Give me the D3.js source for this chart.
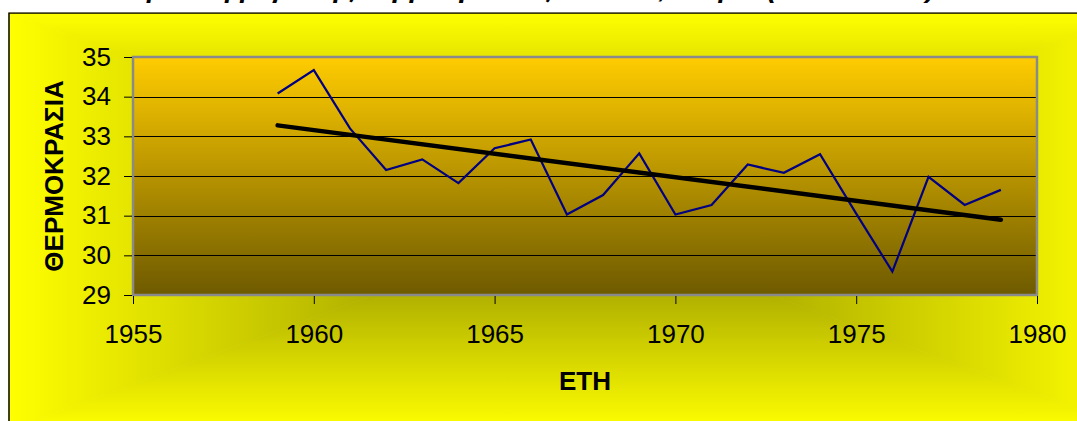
<!DOCTYPE html>
<html>
<head>
<meta charset="utf-8">
<script src="https://cdn.jsdelivr.net/npm/d3@7"></script>
<style>
  html, body { margin: 0; padding: 0; background: #ffffff; overflow: hidden; }
  svg { display: block; }
  text { font-family: Arial, "Liberation Sans", sans-serif; }
</style>
</head>
<body>
<svg id="chart" width="1077" height="421"></svg>
<script>
// ---- data ----
const years = [1959, 1960, 1961, 1962, 1963, 1964, 1965, 1966, 1967, 1968, 1969,
               1970, 1971, 1972, 1973, 1974, 1975, 1976, 1977, 1978, 1979];
const temps = [34.08, 34.67, 33.20, 32.15, 32.42, 31.82, 32.70, 32.92, 31.03, 31.52, 32.57,
               31.03, 31.27, 32.29, 32.08, 32.55, 31.05, 29.59, 31.98, 31.27, 31.65];
const xTicks = [1955, 1960, 1965, 1970, 1975, 1980];
const yTicks = [29, 30, 31, 32, 33, 34, 35];
const xDomain = [1955, 1980];
const yDomain = [29, 35];
const titleText = "Διακύμανση μέγιστης θερμοκρασίας Ιουλίου, Αθήνα (1959 - 1979)";
const yTitle = "ΘΕΡΜΟΚΡΑΣΙΑ";
const xTitle = "ΕΤΗ";

// ---- layout ----
const svg = d3.select("#chart");
const W = 1077, H = 421;
const plot = { left: 133, right: 1037, top: 57, bottom: 295 };
const frame = { x0: 9, y0: 13, x1: 1135, y1: 430 };

const defs = svg.append("defs");

// chart area: rectangular "from centre" gradient built from 4 triangles
const cx = (frame.x0 + frame.x1) / 2, cy = (frame.y0 + frame.y1) / 2;
const centerColor = "#868600", edgeColor = "#ffff00";
const tris = [
  { id: "gT", pts: [[frame.x0, frame.y0], [frame.x1, frame.y0], [cx, cy]], g: [cx, cy, cx, frame.y0] },
  { id: "gB", pts: [[frame.x0, frame.y1], [frame.x1, frame.y1], [cx, cy]], g: [cx, cy, cx, frame.y1] },
  { id: "gL", pts: [[frame.x0, frame.y0], [frame.x0, frame.y1], [cx, cy]], g: [cx, cy, frame.x0, cy] },
  { id: "gR", pts: [[frame.x1, frame.y0], [frame.x1, frame.y1], [cx, cy]], g: [cx, cy, frame.x1, cy] }
];
tris.forEach(t => {
  const lg = defs.append("linearGradient").attr("id", t.id)
    .attr("gradientUnits", "userSpaceOnUse")
    .attr("x1", t.g[0]).attr("y1", t.g[1]).attr("x2", t.g[2]).attr("y2", t.g[3]);
  lg.append("stop").attr("offset", 0).attr("stop-color", centerColor);
  lg.append("stop").attr("offset", 1).attr("stop-color", edgeColor);
  svg.append("polygon")
    .attr("points", t.pts.map(p => p.join(",")).join(" "))
    .attr("fill", `url(#${t.id})`)
    .attr("stroke", `url(#${t.id})`).attr("stroke-width", 0.8);
});

// frame border
svg.append("path")
  .attr("d", `M${frame.x0},${frame.y1} L${frame.x0},${frame.y0} L${frame.x1},${frame.y0}`)
  .attr("fill", "none").attr("stroke", "#000").attr("stroke-width", 1.5);

// white area above frame (title strip)
svg.append("rect").attr("x", 0).attr("y", 0).attr("width", W).attr("height", frame.y0 - 0.75)
  .attr("fill", "#fff");

// title (mostly clipped at top of the picture: only descenders visible)
svg.append("text")
  .attr("x", 935).attr("y", -3)
  .attr("text-anchor", "end")
  .attr("font-size", 28).attr("font-weight", "bold").attr("font-style", "italic")
  .attr("fill", "#000")
  .text(titleText);

// ---- scales ----
const x = d3.scaleLinear().domain(xDomain).range([plot.left, plot.right]);
const y = d3.scaleLinear().domain(yDomain).range([plot.bottom, plot.top]);

// plot area gradient
const pg = defs.append("linearGradient").attr("id", "plotGrad")
  .attr("x1", 0).attr("y1", 0).attr("x2", 0).attr("y2", 1);
pg.append("stop").attr("offset", 0).attr("stop-color", "#ffcc00");
pg.append("stop").attr("offset", 1).attr("stop-color", "#6e5a00");

svg.append("rect")
  .attr("x", plot.left).attr("y", plot.top)
  .attr("width", plot.right - plot.left).attr("height", plot.bottom - plot.top)
  .attr("fill", "url(#plotGrad)");

// gridlines
svg.append("g").selectAll("line")
  .data(yTicks.filter(v => v > yDomain[0] && v < yDomain[1]))
  .join("line")
  .attr("x1", plot.left).attr("x2", plot.right)
  .attr("y1", d => Math.round(y(d)) + 0.5).attr("y2", d => Math.round(y(d)) + 0.5)
  .attr("stroke", "#000").attr("stroke-width", 1);

// plot border
svg.append("rect")
  .attr("x", plot.left).attr("y", plot.top)
  .attr("width", plot.right - plot.left).attr("height", plot.bottom - plot.top)
  .attr("fill", "none").attr("stroke", "#8a8a8a").attr("stroke-width", 2.5);

// axes
const yAxis = d3.axisLeft(y).tickValues(yTicks).tickSize(8).tickPadding(13).tickFormat(d3.format("d"));
const gy = svg.append("g").attr("transform", `translate(${plot.left - 1},0)`).call(yAxis);
gy.select(".domain").remove();
gy.selectAll("line").attr("stroke", "#000");
gy.selectAll("text").attr("font-size", 26).attr("fill", "#000")
  .attr("font-family", "Arial, 'Liberation Sans', sans-serif");

const xAxis = d3.axisBottom(x).tickValues(xTicks).tickSize(8).tickPadding(21).tickFormat(d3.format("d"));
const gx = svg.append("g").attr("transform", `translate(0,${plot.bottom + 1})`).call(xAxis);
gx.select(".domain").remove();
gx.selectAll("line").attr("stroke", "#000");
gx.selectAll("text").attr("font-size", 26).attr("fill", "#000")
  .attr("font-family", "Arial, 'Liberation Sans', sans-serif");

// data line
const pts = years.map((yr, i) => [yr, temps[i]]);
svg.append("path")
  .datum(pts)
  .attr("d", d3.line().x(d => x(d[0])).y(d => y(d[1])))
  .attr("fill", "none").attr("stroke", "#000080").attr("stroke-width", 2.2)
  .attr("stroke-linejoin", "miter");

// linear trend (least squares)
const n = years.length;
const mx = d3.mean(years), my = d3.mean(temps);
const sxy = d3.sum(years, (v, i) => (v - mx) * (temps[i] - my));
const sxx = d3.sum(years, v => (v - mx) * (v - mx));
const slope = sxy / sxx, icpt = my - slope * mx;
const tr = [years[0], years[n - 1]].map(v => [v, icpt + slope * v]);
svg.append("path")
  .datum(tr)
  .attr("d", d3.line().x(d => x(d[0])).y(d => y(d[1])))
  .attr("fill", "none").attr("stroke", "#000").attr("stroke-width", 4.5)
  .attr("stroke-linecap", "round");

// axis titles
svg.append("text")
  .attr("transform", `translate(63,${(plot.top + plot.bottom) / 2}) rotate(-90)`)
  .attr("text-anchor", "middle")
  .attr("font-size", 26).attr("font-weight", "bold").attr("fill", "#000")
  .text(yTitle);

svg.append("text")
  .attr("x", (plot.left + plot.right) / 2).attr("y", 390)
  .attr("text-anchor", "middle")
  .attr("font-size", 26).attr("font-weight", "bold").attr("fill", "#000")
  .text(xTitle);
</script>
</body>
</html>
